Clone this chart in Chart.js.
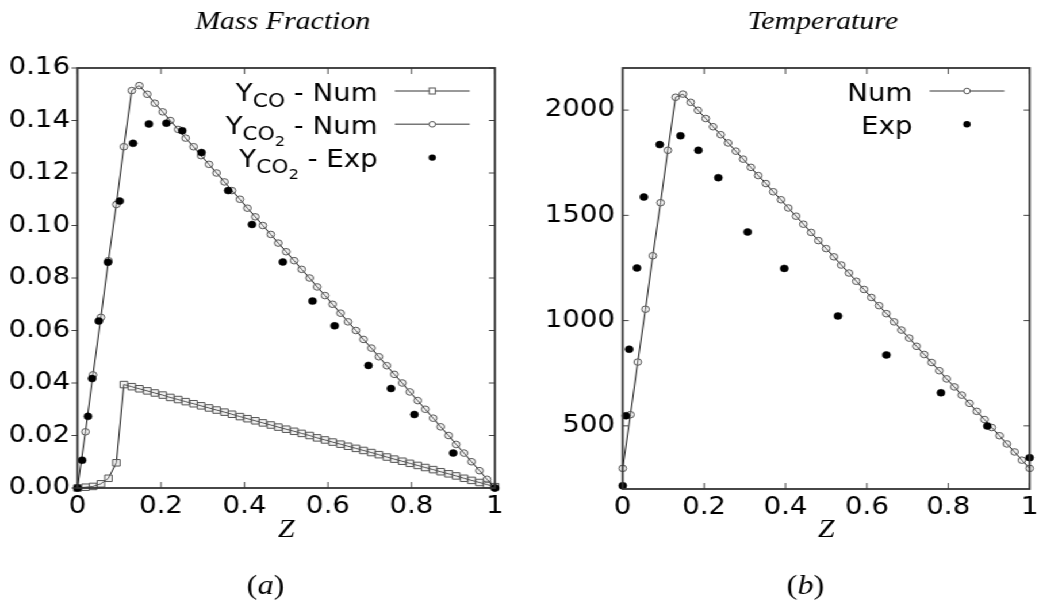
<!DOCTYPE html>
<html><head><meta charset="utf-8">
<script src="https://cdn.jsdelivr.net/npm/chart.js@4.4.1/dist/chart.umd.min.js"></script>
<style>
html,body{margin:0;padding:0;background:#fff;overflow:hidden;}
#wrap{position:absolute;left:0;top:0;width:907px;height:610px;transform:scaleX(1.15);transform-origin:0 0;}
#c1{position:absolute;left:0;top:0;}
#c2{position:absolute;left:453px;top:0;}
</style></head><body>
<div id="wrap">
<canvas id="c1" width="453" height="610" style="width:453px;height:610px"></canvas>
<canvas id="c2" width="454" height="610" style="width:454px;height:610px"></canvas>
</div>
<script>
// ---------- data ----------
const zNum = [0,0.019,0.037,0.056,0.074,0.093,0.111,0.130,0.148,0.167,0.185,0.204,0.222,0.241,0.259,0.278,0.296,0.315,0.333,0.352,0.370,0.389,0.407,0.426,0.444,0.463,0.481,0.500,0.519,0.537,0.556,0.574,0.593,0.611,0.630,0.648,0.667,0.685,0.704,0.722,0.741,0.759,0.778,0.796,0.815,0.833,0.852,0.870,0.889,0.907,0.926,0.944,0.963,0.981,1];
const yCONum = [0,0.0003,0.0006,0.0016,0.0037,0.0096,0.0394,0.0386,0.0378,0.037,0.0362,0.0354,0.0345,0.0337,0.0329,0.0321,0.0313,0.0305,0.0297,0.0289,0.0281,0.0272,0.0264,0.0256,0.0248,0.024,0.0232,0.0224,0.0216,0.0208,0.02,0.0191,0.0183,0.0175,0.0167,0.0159,0.0151,0.0143,0.0135,0.0127,0.0118,0.011,0.0102,0.0094,0.0086,0.0078,0.007,0.0062,0.0054,0.0046,0.0037,0.0029,0.0021,0.0013,0.0005];
const yCO2Num = [0,0.0214,0.0431,0.065,0.0866,0.108,0.130,0.1514,0.1533,0.150,0.1466,0.1433,0.140,0.1366,0.1333,0.130,0.1266,0.1233,0.120,0.1166,0.1133,0.110,0.1066,0.1033,0.100,0.0966,0.0933,0.090,0.0866,0.0833,0.080,0.0766,0.0733,0.070,0.0666,0.0633,0.060,0.0566,0.0533,0.050,0.0466,0.0433,0.040,0.0366,0.0333,0.030,0.0266,0.0233,0.020,0.0166,0.0133,0.010,0.0066,0.0033,0];
const zExpCO2 = [0,0.011,0.025,0.035,0.051,0.073,0.101,0.133,0.171,0.213,0.251,0.297,0.361,0.418,0.492,0.563,0.616,0.697,0.751,0.807,0.900,1.0];
const yCO2Exp = [0,0.0106,0.0273,0.0417,0.0636,0.086,0.1093,0.1313,0.1387,0.139,0.1361,0.1278,0.1133,0.1004,0.0861,0.0712,0.0618,0.0467,0.0379,0.028,0.0133,0];
const tempNum = [298,553,803,1054,1308,1560,1809,2061,2076,2037,1999,1960,1921,1883,1844,1805,1767,1728,1689,1651,1612,1574,1535,1496,1458,1419,1380,1342,1303,1264,1226,1187,1148,1110,1071,1033,994,955,917,878,839,801,762,723,685,646,607,569,530,492,453,414,376,337,298];
const zExpT = [0,0.008,0.016,0.035,0.052,0.091,0.142,0.186,0.235,0.307,0.397,0.529,0.648,0.782,0.896,1.0];
const tempExp = [216,548,864,1250,1587,1836,1878,1809,1679,1421,1248,1022,837,657,499,349];
const zTicks = [0,0.2,0.4,0.6,0.8,1];
const massTicks = [0,0.02,0.04,0.06,0.08,0.10,0.12,0.14,0.16];
const tempTicks = [500,1000,1500,2000];
const titles = ['Mass Fraction','Temperature'];
const panels = ['a','b'];

// ---------- helpers ----------
const pts = (xs, ys) => xs.map((x, i) => ({x: x, y: ys[i]}));
const SANS = "'DejaVu Sans'";
function fmtZ(v){ return v === 0 ? '0' : (v === 1 ? '1' : v.toFixed(1)); }

function numSet(label, ys, style){
  return {label, data: pts(zNum, ys), showLine: true, borderColor: '#111', borderWidth: 1,
    pointStyle: style, pointRadius: style === 'rect' ? 4.6 : 3.3, pointBorderColor: '#555', pointBorderWidth: 1,
    pointBackgroundColor: 'rgba(215,215,215,0.35)', clip: false, tension: 0, order: 2};
}
function expSet(label, xs, ys){
  return {label, data: pts(xs, ys), showLine: false, pointStyle: 'circle', pointRadius: 3.5,
    pointBorderColor: '#000', pointBorderWidth: 0.5, pointBackgroundColor: '#000', clip: false, order: 1};
}

function richWidth(ctx, parts){
  let w = 0;
  parts.forEach(p => { ctx.font = p.size + 'px ' + SANS; w += ctx.measureText(p.t).width; });
  return w;
}
function drawRich(ctx, parts, xr, yb){
  let x = xr - richWidth(ctx, parts);
  ctx.textAlign = 'left'; ctx.textBaseline = 'alphabetic'; ctx.fillStyle = '#000';
  parts.forEach(p => { ctx.font = p.size + 'px ' + SANS; ctx.fillText(p.t, x, yb + p.dy); x += ctx.measureText(p.t).width; });
}

const decor = {
  id: 'decor',
  afterDraw(chart, args, o){
    const ctx = chart.ctx, a = chart.chartArea, xs = chart.scales.x, ys = chart.scales.y;
    ctx.save();
    const line = (x1,y1,x2,y2) => { ctx.beginPath(); ctx.moveTo(x1,y1); ctx.lineTo(x2,y2); ctx.stroke(); };
    // tick marks
    ctx.strokeStyle = '#444'; ctx.lineWidth = 1;
    const LV = 6, LH = 5.2;
    zTicks.forEach(v => { const p = xs.getPixelForValue(v); line(p, a.bottom, p, a.bottom - LV); line(p, a.top, p, a.top + LV); });
    o.yTicks.forEach(v => { const p = ys.getPixelForValue(v);
      if (o.leftOut) line(a.left - LH, p, a.left, p); else line(a.left, p, a.left + LH, p);
      line(a.right, p, a.right - LH, p); });
    // frame
    ctx.strokeStyle = '#333'; ctx.lineWidth = 1.8;
    ctx.strokeRect(a.left, a.top, a.right - a.left, a.bottom - a.top);
    const cx = (a.left + a.right) / 2;
    // title
    ctx.fillStyle = '#000'; ctx.textAlign = 'center'; ctx.textBaseline = 'alphabetic';
    ctx.font = "italic 26px 'Liberation Serif'";
    ctx.fillText(o.title, cx - 3, 29);
    // panel label
    const px = cx - 18, py = 594;
    ctx.font = "28px 'Liberation Serif'"; const wp = ctx.measureText('(').width;
    ctx.font = "italic 28px 'Liberation Serif'"; const wl = ctx.measureText(o.panel).width;
    let x0 = px - (2 * wp + wl) / 2;
    ctx.textAlign = 'left';
    ctx.font = "28px 'Liberation Serif'"; ctx.fillText('(', x0, py);
    ctx.font = "italic 28px 'Liberation Serif'"; ctx.fillText(o.panel, x0 + wp, py);
    ctx.font = "28px 'Liberation Serif'"; ctx.fillText(')', x0 + wp + wl, py);
    // legend
    o.legend.forEach((e, i) => {
      const ym = 91 + i * 33.3;
      drawRich(ctx, e.parts, a.right - 102, ym + 9.7);
      const mx = a.right - 54.5;
      if (e.line) { ctx.strokeStyle = '#777'; ctx.lineWidth = 1.5; line(a.right - 87, ym, a.right - 22, ym); }
      ctx.lineWidth = 1;
      if (e.mark === 'rect') { ctx.fillStyle = '#fff'; ctx.strokeStyle = '#555'; ctx.fillRect(mx - 2.7, ym - 3, 5.4, 6); ctx.strokeRect(mx - 2.7, ym - 3, 5.4, 6); }
      else if (e.mark === 'circle') { ctx.fillStyle = '#fff'; ctx.strokeStyle = '#555'; ctx.beginPath(); ctx.arc(mx, ym, 2.8, 0, Math.PI*2); ctx.fill(); ctx.stroke(); }
      else { ctx.fillStyle = '#000'; ctx.beginPath(); ctx.arc(mx, ym, 3.2, 0, Math.PI*2); ctx.fill(); }
    });
    ctx.restore();
  }
};

function baseOptions(o){
  return {
    responsive: false, animation: false, events: [],
    layout: {padding: {left: 0, right: o.padRight, top: 68, bottom: 0}},
    plugins: {legend: {display: false}, tooltip: {enabled: false}, decor: o.decor},
    scales: {
      x: {type: 'linear', min: 0, max: 1,
        afterBuildTicks: s => { s.ticks = zTicks.map(v => ({value: v})); },
        afterFit: s => { s.height = o.xHeight; },
        grid: {display: false, drawTicks: false}, border: {display: false},
        ticks: {font: {family: 'DejaVu Sans', size: 24}, color: '#000', padding: 4, maxRotation: 0, autoSkip: false, callback: v => fmtZ(v)},
        title: {display: true, text: 'Z', color: '#000', font: {family: 'Liberation Serif', style: 'italic', size: 26}, padding: {top: 0, bottom: 64}}},
      y: {type: 'linear', min: o.yMin, max: o.yMax,
        afterBuildTicks: s => { s.ticks = o.yTicks.map(v => ({value: v})); },
        afterFit: s => { s.width = o.yWidth; },
        grid: {display: false, drawTicks: false}, border: {display: false},
        ticks: {font: {family: 'DejaVu Sans', size: 24}, color: '#000', padding: o.yPad, autoSkip: false, callback: o.yFmt}}
    }
  };
}

new Chart(document.getElementById('c1'), {
  type: 'scatter', plugins: [decor],
  data: {datasets: [
    expSet('Y_CO2 - Exp', zExpCO2, yCO2Exp),
    numSet('Y_CO2 - Num', yCO2Num, 'circle'),
    numSet('Y_CO - Num', yCONum, 'rect')
  ]},
  options: baseOptions({padRight: 22.6, xHeight: 122, yWidth: 67.4, yPad: 6.5, yMin: 0, yMax: 0.16, yTicks: massTicks,
    yFmt: v => v.toFixed(2),
    decor: {title: titles[0], panel: panels[0], yTicks: massTicks, leftOut: true, legend: [
      {parts: [{t:'Y',size:24,dy:0},{t:'CO',size:19,dy:6},{t:' - Num',size:24,dy:0}], line: true, mark: 'rect'},
      {parts: [{t:'Y',size:24,dy:0},{t:'CO',size:19,dy:6},{t:'2',size:14,dy:12},{t:' - Num',size:24,dy:0}], line: true, mark: 'circle'},
      {parts: [{t:'Y',size:24,dy:0},{t:'CO',size:19,dy:6},{t:'2',size:14,dy:12},{t:' - Exp',size:24,dy:0}], line: false, mark: 'dot'}
    ]}})
});

new Chart(document.getElementById('c2'), {
  type: 'scatter', plugins: [decor],
  data: {datasets: [
    expSet('Exp', zExpT, tempExp),
    numSet('Num', tempNum, 'circle')
  ]},
  options: baseOptions({padRight: 10, xHeight: 121, yWidth: 88.5, yPad: 6.7, yMin: 200, yMax: 2200, yTicks: tempTicks,
    yFmt: v => String(v),
    decor: {title: titles[1], panel: panels[1], yTicks: tempTicks, leftOut: false, legend: [
      {parts: [{t:'Num',size:24,dy:0}], line: true, mark: 'circle'},
      {parts: [{t:'Exp',size:24,dy:0}], line: false, mark: 'dot'}
    ]}})
});
</script>
</body></html>
